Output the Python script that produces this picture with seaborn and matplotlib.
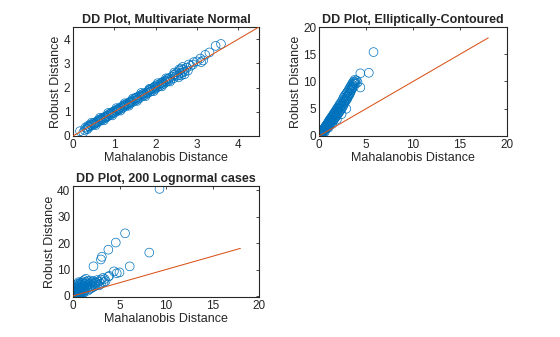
import matplotlib
matplotlib.use("Agg")
import matplotlib.pyplot as plt
import seaborn as sns
import pandas as pd

# ---------------- data ----------------
titles = ["DD Plot, Multivariate Normal", "DD Plot, Elliptically-Contoured", "DD Plot, 200 Lognormal cases"]
xlabel = "Mahalanobis Distance"
ylabel = "Robust Distance"

normal_md = [0.17, 0.28, 0.30, 0.33, 0.36, 0.40, 0.42, 0.45, 0.48, 0.50, 0.53, 0.55, 0.58, 0.60, 0.62, 0.65,
             0.68, 0.70, 0.72, 0.75, 0.78, 0.80, 0.82, 0.85, 0.87, 0.90, 0.92, 0.95, 0.97, 1.00, 1.02, 1.05,
             1.07, 1.10, 1.12, 1.15, 1.17, 1.20, 1.22, 1.25, 1.27, 1.30, 1.32, 1.35, 1.37, 1.40, 1.42, 1.45,
             1.47, 1.50, 1.52, 1.55, 1.57, 1.60, 1.62, 1.65, 1.67, 1.70, 1.72, 1.75, 1.78, 1.80, 1.83, 1.86,
             1.88, 1.90, 1.93, 1.96, 1.98, 2.00, 2.03, 2.05, 2.08, 2.10, 2.13, 2.15, 2.18, 2.20, 2.23, 2.25,
             2.28, 2.30, 2.33, 2.36, 2.40, 2.43, 2.46, 2.50, 2.52, 2.55, 2.58, 2.60, 2.62, 2.65, 2.68, 2.70,
             2.75, 2.80, 2.85, 2.92, 3.00, 3.08, 3.15, 3.20, 3.30, 3.45, 3.58,
             0.38, 0.52, 0.66, 0.79, 0.93, 1.08, 1.23, 1.38, 1.53, 1.68, 1.84, 1.99, 2.14, 2.29, 2.44, 2.57,
             0.25, 0.35, 0.45, 0.55, 0.65, 0.75, 0.85, 0.95, 1.05, 1.15, 1.25, 1.35, 1.45, 1.55, 1.65, 1.75,
             1.85, 1.95, 2.05, 2.15, 2.25, 2.35, 2.45, 2.55, 2.65, 2.70, 2.78, 2.62, 2.90, 3.10]
normal_rd = [0.20, 0.25, 0.35, 0.30, 0.42, 0.38, 0.47, 0.44, 0.52, 0.47, 0.56, 0.52, 0.60, 0.57, 0.66, 0.62,
             0.70, 0.66, 0.75, 0.72, 0.80, 0.76, 0.84, 0.82, 0.90, 0.86, 0.94, 0.92, 1.00, 0.96, 1.05, 1.01,
             1.10, 1.06, 1.15, 1.12, 1.20, 1.16, 1.25, 1.21, 1.30, 1.26, 1.35, 1.31, 1.40, 1.36, 1.46, 1.41,
             1.52, 1.46, 1.57, 1.51, 1.62, 1.56, 1.67, 1.62, 1.72, 1.66, 1.76, 1.70, 1.80, 1.76, 1.85, 1.82,
             1.93, 1.86, 1.98, 1.92, 2.05, 1.96, 2.10, 2.02, 2.12, 2.06, 2.18, 2.12, 2.24, 2.16, 2.28, 2.22,
             2.35, 2.26, 2.40, 2.32, 2.45, 2.38, 2.55, 2.48, 2.62, 2.50, 2.70, 2.58, 2.78, 2.62, 2.74, 2.66,
             2.82, 2.95, 2.90, 3.05, 3.08, 3.20, 3.12, 3.35, 3.45, 3.72, 3.80,
             0.40, 0.50, 0.69, 0.78, 0.97, 1.09, 1.27, 1.40, 1.58, 1.72, 1.90, 2.03, 2.20, 2.34, 2.52, 2.75,
             0.15, 0.28, 0.55, 0.45, 0.75, 0.65, 0.95, 0.85, 1.15, 1.05, 1.35, 1.25, 1.55, 1.45, 1.78, 1.64,
             1.95, 1.85, 2.18, 2.05, 2.38, 2.25, 2.62, 2.42, 2.85, 2.55, 2.70, 2.50, 2.95, 3.05]

ellip_md = [0.05, 0.10, 0.12, 0.15, 0.20, 0.20, 0.25, 0.30, 0.30, 0.35, 0.40, 0.40, 0.45, 0.50, 0.50, 0.55,
            0.60, 0.60, 0.65, 0.70, 0.70, 0.75, 0.80, 0.80, 0.85, 0.90, 0.90, 0.95, 1.00, 1.00, 1.05, 1.10,
            1.10, 1.15, 1.20, 1.20, 1.25, 1.30, 1.30, 1.35, 1.40, 1.40, 1.50, 1.50, 1.55, 1.60, 1.60, 1.70,
            1.70, 1.75, 1.80, 1.80, 1.90, 1.90, 2.00, 2.00, 2.05, 2.10, 2.10, 2.20, 2.20, 2.30, 2.30, 2.40,
            2.40, 2.45, 2.50, 2.50, 2.60, 2.60, 2.70, 2.70, 2.80, 2.80, 2.90, 2.90, 3.00, 3.00, 3.10, 3.10,
            3.20, 3.20, 3.30, 3.30, 3.40, 3.40, 3.50, 3.50, 3.60, 3.70, 3.70, 3.80, 3.90, 4.00, 4.10, 4.40,
            4.40, 5.30, 5.80,
            0.15, 0.25, 0.35, 0.45, 0.55, 0.65, 0.75, 0.85, 0.95, 1.05, 1.15, 1.25, 1.35, 1.45, 1.55, 1.65,
            1.75, 1.85, 1.95, 2.05, 2.15, 2.25, 2.35, 2.55, 2.65, 2.75, 2.85, 2.95, 3.05, 3.15, 3.25, 3.35,
            3.45, 3.55, 3.65, 3.75, 3.85, 0.60, 1.00, 1.40, 1.90, 2.40, 2.90]
ellip_rd = [0.10, 0.30, 0.15, 0.40, 0.30, 0.60, 0.50, 0.80, 0.40, 0.70, 1.00, 0.60, 0.90, 1.30, 0.80, 1.10,
            1.50, 1.00, 1.30, 1.80, 1.20, 1.60, 2.00, 1.40, 1.80, 2.30, 1.60, 2.00, 2.60, 1.80, 2.20, 2.90,
            2.00, 2.50, 3.10, 2.20, 2.70, 3.40, 2.40, 3.00, 3.60, 2.60, 3.90, 2.80, 3.30, 4.20, 3.00, 4.40,
            3.30, 3.80, 4.70, 3.50, 5.00, 3.70, 5.20, 4.00, 4.50, 5.50, 4.20, 5.80, 4.50, 6.00, 4.80, 6.30,
            5.00, 5.60, 6.60, 5.30, 7.00, 5.60, 7.30, 6.00, 7.50, 6.30, 7.80, 6.60, 8.00, 6.80, 8.30, 7.20,
            8.60, 7.50, 8.90, 7.80, 9.20, 8.20, 9.50, 8.60, 9.80, 10.00, 9.00, 10.30, 9.60, 10.20, 9.80, 11.50,
            8.90, 11.60, 15.40,
            0.25, 0.55, 0.85, 1.10, 1.30, 1.60, 1.85, 2.10, 2.30, 2.55, 2.85, 3.00, 3.35, 3.50, 3.75, 4.00,
            4.20, 4.40, 4.60, 4.90, 5.10, 5.30, 5.50, 6.00, 6.30, 6.60, 6.90, 7.20, 7.40, 7.60, 7.90, 8.40,
            8.70, 9.00, 9.30, 9.60, 9.90, 0.70, 1.50, 2.20, 3.00, 4.00, 5.00]

logn_md = [0.10, 0.15, 0.20, 0.20, 0.25, 0.30, 0.30, 0.35, 0.35, 0.40, 0.40, 0.40, 0.45, 0.50, 0.50, 0.50,
           0.55, 0.60, 0.60, 0.60, 0.65, 0.65, 0.70, 0.70, 0.75, 0.75, 0.80, 0.80, 0.80, 0.85, 0.90, 0.90,
           0.95, 1.00, 1.00, 1.00, 1.10, 1.10, 1.20, 1.20, 1.30, 1.30, 1.40, 1.40, 1.50, 1.50, 1.60, 1.70,
           1.80, 1.90, 2.00, 2.10, 2.20, 2.30, 2.50, 2.60, 2.80, 3.00, 3.20, 3.40, 3.80, 3.90, 4.40, 4.70,
           5.00, 6.10, 8.20, 2.20, 3.00, 3.10, 3.80, 4.60, 5.60, 9.30, 0.30, 0.45, 0.55, 0.70, 0.25, 0.85,
           1.20, 1.60, 1.80, 2.00, 2.20, 2.40, 2.60, 2.80, 3.00, 3.30, 3.50, 2.40, 1.90, 1.40, 1.00, 0.60,
           0.30, 0.20, 0.15, 0.50, 0.70, 0.90, 1.10, 0.30, 0.60, 0.80, 0.10, 0.45, 1.20, 1.60]
logn_rd = [0.50, 1.50, 0.80, 2.20, 0.30, 1.20, 2.80, 0.60, 1.80, 0.20, 1.00, 3.20, 2.20, 0.50, 1.40, 3.60,
           2.60, 0.30, 1.80, 4.00, 1.00, 3.00, 2.20, 4.50, 1.40, 3.40, 0.60, 2.60, 5.00, 1.80, 3.00, 4.20,
           2.20, 1.20, 3.50, 5.50, 2.60, 4.00, 3.00, 6.00, 2.20, 4.50, 3.40, 5.20, 2.80, 4.00, 5.60, 3.30,
           4.60, 3.80, 5.20, 4.20, 5.60, 4.60, 5.00, 6.00, 5.40, 6.20, 6.80, 6.40, 7.30, 7.60, 9.30, 8.60,
           8.90, 11.20, 16.40, 11.20, 13.80, 14.80, 17.50, 20.20, 23.70, 40.50, 0.00, 0.10, 0.40, 0.20, 2.50, 0.90,
           1.50, 2.00, 2.60, 3.00, 3.40, 3.80, 4.20, 4.00, 4.60, 5.20, 5.60, 5.20, 5.80, 6.50, 4.80, 5.20,
           4.00, 3.20, 0.20, 2.00, 0.80, 1.60, 1.00, 0.10, 0.00, 0.20, 1.00, 4.50, 4.80, 4.40]

line1 = [0, 4.5]
line2 = [0, 18]
line3 = [0, 18]

# ---------------- style ----------------
sns.set_style("white")
plt.rcParams["font.family"] = ["Liberation Sans", "DejaVu Sans"]

BLUE = "#0072BD"
ORANGE = "#D95319"

fig = plt.figure(figsize=(5.6, 3.37), dpi=100)
positions = [
    [73 / 560, 1 - 136 / 337, 186 / 560, 109 / 337],
    [319 / 560, 1 - 136 / 337, 188 / 560, 109 / 337],
    [73 / 560, 1 - 297 / 337, 186 / 560, 111 / 337],
]
datasets = [(normal_md, normal_rd, line1), (ellip_md, ellip_rd, line2), (logn_md, logn_rd, line3)]
limits = [((0, 4.5), (0, 4.5), [0, 1, 2, 3, 4], [0, 1, 2, 3, 4]),
          ((0, 20), (0, 20), [0, 5, 10, 15, 20], [0, 5, 10, 15, 20]),
          ((0, 20), (-0.4, 41.6), [0, 5, 10, 15, 20], [0, 10, 20, 30, 40])]

for pos, (mx, ry, ln), (xl, yl, xt, yt), title in zip(positions, datasets, limits, titles):
    ax = fig.add_axes(pos)
    df = pd.DataFrame({"md": mx, "rd": ry})
    sns.scatterplot(data=df, x="md", y="rd", ax=ax, marker="o", s=40,
                    facecolors="none", edgecolors=BLUE, linewidth=0.5, zorder=2)
    sns.lineplot(x=ln, y=ln, ax=ax, color=ORANGE, linewidth=0.75, zorder=3)
    ax.set_xlim(*xl)
    ax.set_ylim(*yl)
    ax.set_xticks(xt)
    ax.set_yticks(yt)
    ax.tick_params(direction="in", length=2.5, width=0.6, labelsize=8.5, pad=2,
                   top=True, right=True, colors="#262626")
    for s in ax.spines.values():
        s.set_linewidth(0.8)
        s.set_color("#262626")
    ax.set_xlabel(xlabel, fontsize=9, labelpad=1, color="#262626")
    ax.set_ylabel(ylabel, fontsize=9, labelpad=1, color="#262626")
    ax.set_title(title, fontsize=9, fontweight="bold", pad=3, color="#262626")

fig.savefig("out.png", dpi=100)
